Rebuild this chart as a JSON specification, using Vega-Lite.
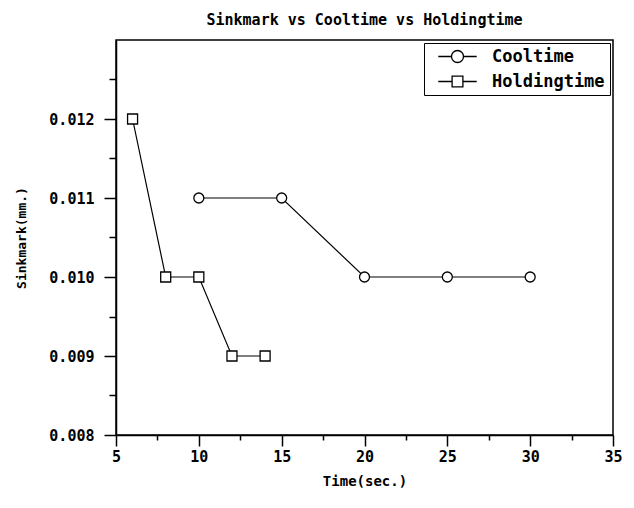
{
  "$schema": "https://vega.github.io/schema/vega-lite/v6.json",
  "autosize": "none",
  "padding": {"left": 116, "top": 40, "right": 20, "bottom": 74},
  "width": 497,
  "height": 395,
  "background": "white",
  "config": {
    "font": "DejaVu Sans Mono",
    "view": {"stroke": "black", "strokeWidth": 1.5},
    "axis": {"domainColor": "black", "tickColor": "black", "labelColor": "black", "titleColor": "black", "grid": false, "labelFont": "DejaVu Sans Mono", "titleFont": "DejaVu Sans Mono", "labelFontWeight": "bold", "titleFontWeight": "bold", "labelFontSize": 15, "titleFontSize": 14, "domainWidth": 1.5, "tickWidth": 1.5}
  },
  "title": {"text": "Sinkmark vs Cooltime vs Holdingtime", "font": "DejaVu Sans Mono", "fontSize": 15, "fontWeight": "bold", "color": "black", "offset": 12},
  "data": {"values": [
    {"series": "Cooltime", "time": 10, "sink": 0.011},
    {"series": "Cooltime", "time": 15, "sink": 0.011},
    {"series": "Cooltime", "time": 20, "sink": 0.010},
    {"series": "Cooltime", "time": 25, "sink": 0.010},
    {"series": "Cooltime", "time": 30, "sink": 0.010},
    {"series": "Holdingtime", "time": 6, "sink": 0.012},
    {"series": "Holdingtime", "time": 8, "sink": 0.010},
    {"series": "Holdingtime", "time": 10, "sink": 0.010},
    {"series": "Holdingtime", "time": 12, "sink": 0.009},
    {"series": "Holdingtime", "time": 14, "sink": 0.009}
  ]},
  "encoding": {
    "x": {"field": "time", "type": "quantitative", "scale": {"domain": [5, 35], "nice": false, "zero": false},
      "axis": {"values": [5, 7.5, 10, 12.5, 15, 17.5, 20, 22.5, 25, 27.5, 30, 32.5, 35],
        "labelExpr": "datum.value % 5 == 0 ? datum.label : ''",
        "tickSize": {"condition": {"test": "datum.value % 5 == 0", "value": 11}, "value": 5},
        "title": "Time(sec.)", "labelPadding": 3, "labelFlush": false, "titlePadding": 10}},
    "y": {"field": "sink", "type": "quantitative", "scale": {"domain": [0.008, 0.013], "nice": false, "zero": false},
      "axis": {"values": [0.008, 0.0085, 0.009, 0.0095, 0.010, 0.0105, 0.011, 0.0115, 0.012, 0.0125],
        "labelExpr": "abs(datum.value * 1000 - round(datum.value * 1000)) < 0.01 ? format(datum.value, '.3f') : ''",
        "tickSize": {"condition": {"test": "abs(datum.value * 1000 - round(datum.value * 1000)) < 0.01", "value": 12}, "value": 7},
        "title": "Sinkmark(mm.)", "titleFontSize": 13, "labelPadding": 10, "labelFlush": false, "titlePadding": 20}}
  },
  "layer": [
    {
      "mark": {"type": "line", "strokeWidth": 1.2},
      "encoding": {
        "color": {"field": "series", "type": "nominal",
          "scale": {"domain": ["Cooltime", "Holdingtime"], "range": ["black", "black"]},
          "legend": {"title": null, "orient": "top-right", "offset": 3, "strokeColor": "black", "padding": 5, "fillColor": "white",
            "symbolType": "M-3.2,0H-1M1,0H3.2M1,0A1,1 0 1,1 -1,0A1,1 0 1,1 1,0",
            "symbolSize": 144, "symbolOpacity": 1, "symbolFillColor": "white", "symbolStrokeColor": "black", "symbolStrokeWidth": 1.3,
            "symbolOffset": 20, "labelOffset": 26,
            "labelFont": "DejaVu Sans Mono", "labelFontWeight": "bold", "labelFontSize": 17, "labelColor": "black", "rowPadding": 6,
            "encode": {"symbols": {"update": {"shape": {"signal": "datum.value === 'Cooltime' ? 'M-3.2,0H-1M1,0H3.2M1,0A1,1 0 1,1 -1,0A1,1 0 1,1 1,0' : 'M-3.2,0H-0.9M0.9,0H3.2M-0.9,-0.9H0.9V0.9H-0.9Z'"}}}}}}
      }
    },
    {
      "mark": {"type": "point", "filled": true, "fill": "white", "stroke": "black", "strokeWidth": 1.3, "size": 100, "opacity": 1},
      "encoding": {"shape": {"field": "series", "type": "nominal", "scale": {"range": ["circle", "square"]}, "legend": null}}
    }
  ]
}
